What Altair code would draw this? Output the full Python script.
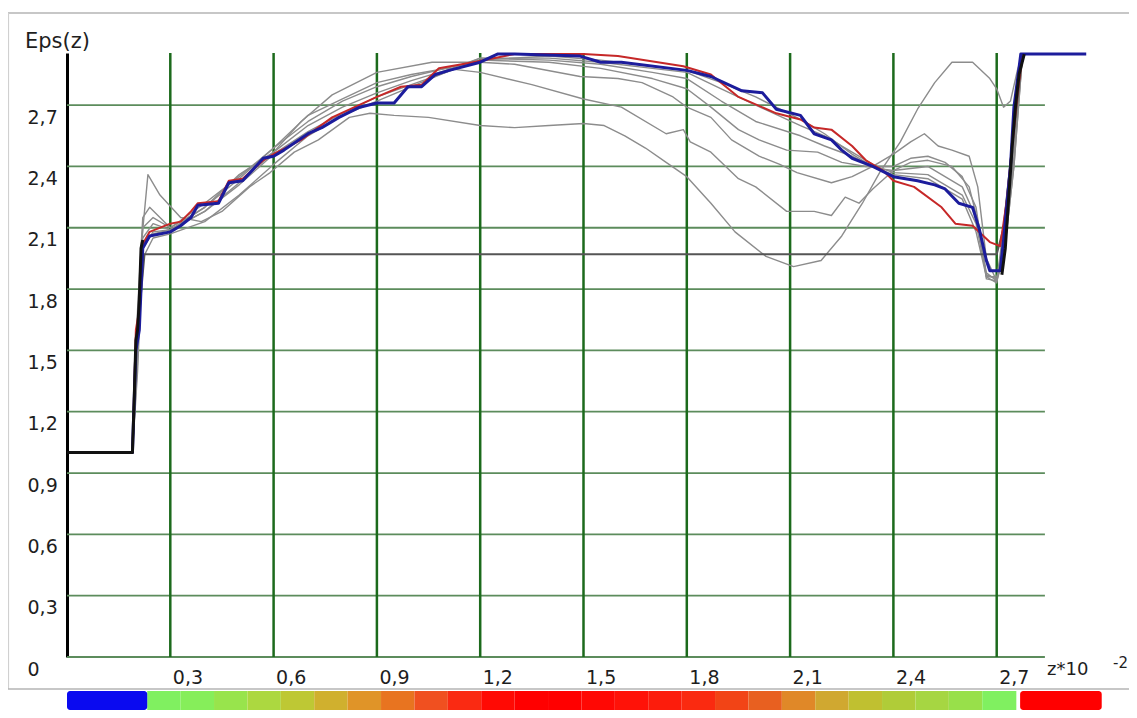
import altair as alt
import pandas as pd

# ---------------- data ----------------
Y_TICKS = [0, 0.3, 0.6, 0.9, 1.2, 1.5, 1.8, 2.1, 2.4, 2.7]
X_TICKS = [0.3, 0.6, 0.9, 1.2, 1.5, 1.8, 2.1, 2.4, 2.7]
GRID_X_END = 2.84
X_MAX = 3.0
Y_MAX = 2.955

BLUE_Z = [0.0, 0.19, 0.2, 0.21, 0.22, 0.24, 0.30, 0.33, 0.36, 0.38, 0.44, 0.47, 0.51, 0.57, 0.6, 0.63,
          0.70, 0.74, 0.79, 0.85, 0.9, 0.95, 0.99, 1.03, 1.07, 1.11, 1.2, 1.25, 1.3, 1.49, 1.55, 1.61,
          1.8, 1.87, 1.96, 2.02, 2.06, 2.13, 2.17, 2.22, 2.25, 2.28, 2.34, 2.40, 2.47, 2.52, 2.55,
          2.59, 2.63, 2.65, 2.67, 2.68, 2.71, 2.72, 2.74, 2.75, 2.77, 2.96]
BLUE_EPS = [1.0, 1.0, 1.5, 1.6, 2.0, 2.06, 2.08, 2.11, 2.15, 2.21, 2.22, 2.32, 2.33, 2.44, 2.45, 2.48,
            2.56, 2.59, 2.64, 2.69, 2.71, 2.71, 2.79, 2.79, 2.85, 2.87, 2.91, 2.95, 2.95, 2.94, 2.91, 2.91,
            2.87, 2.84, 2.77, 2.76, 2.68, 2.65, 2.56, 2.53, 2.48, 2.44, 2.40, 2.35, 2.33, 2.31, 2.29,
            2.22, 2.20, 2.09, 1.94, 1.89, 1.89, 2.04, 2.40, 2.69, 2.95, 2.95]

RED_Z = [0.0, 0.19, 0.2, 0.21, 0.22, 0.24, 0.30, 0.33, 0.36, 0.38, 0.44, 0.47, 0.51, 0.57, 0.6, 0.68,
         0.77, 0.9, 0.97, 1.03, 1.08, 1.18, 1.3, 1.5, 1.6, 1.79, 1.87, 1.95, 2.06, 2.13, 2.17, 2.22,
         2.28, 2.32, 2.37, 2.40, 2.46, 2.54, 2.58, 2.63, 2.68, 2.71, 2.73, 2.745, 2.76, 2.775]
RED_EPS = [1.0, 1.0, 1.6, 1.7, 2.02, 2.08, 2.12, 2.13, 2.18, 2.22, 2.23, 2.33, 2.34, 2.43, 2.46, 2.53,
           2.64, 2.74, 2.79, 2.80, 2.88, 2.91, 2.95, 2.95, 2.94, 2.89, 2.85, 2.74, 2.66, 2.63, 2.59, 2.58,
           2.50, 2.43, 2.38, 2.33, 2.30, 2.20, 2.12, 2.11, 2.03, 2.01, 2.24, 2.5, 2.75, 2.95]

G1_Z = [0.0, 0.19, 0.205, 0.215, 0.235, 0.27, 0.33, 0.39, 0.45, 0.53, 0.59, 0.66, 0.73, 0.82, 0.88, 0.95,
        1.05, 1.2, 1.3, 1.4, 1.5, 1.56, 1.62, 1.68, 1.74, 1.8, 1.87, 1.94, 2.03, 2.11, 2.19, 2.25, 2.31,
        2.36, 2.42, 2.47, 2.52, 2.57, 2.63, 2.68, 2.70, 2.72, 2.74, 2.76, 2.775]
G1_EPS = [1.0, 1.0, 1.6, 2.0, 2.36, 2.26, 2.15, 2.13, 2.18, 2.30, 2.37, 2.47, 2.53, 2.64, 2.66, 2.65,
          2.64, 2.60, 2.59, 2.60, 2.61, 2.60, 2.55, 2.49, 2.42, 2.35, 2.22, 2.08, 1.96, 1.91, 1.94, 2.06, 2.22,
          2.37, 2.52, 2.68, 2.81, 2.91, 2.91, 2.83, 2.78, 2.69, 2.72, 2.87, 2.95]

G2_Z = [0.0, 0.19, 0.205, 0.22, 0.24, 0.3, 0.4, 0.5, 0.6, 0.68, 0.77, 0.9, 1.06, 1.2, 1.3, 1.49, 1.6,
        1.67, 1.76, 1.8, 1.87, 1.93, 2.01, 2.07, 2.12, 2.22, 2.28, 2.34, 2.40, 2.45, 2.49, 2.53, 2.57,
        2.62, 2.645, 2.67, 2.70, 2.72, 2.745, 2.775]
G2_EPS = [1.0, 1.0, 1.7, 2.15, 2.2, 2.1, 2.2, 2.36, 2.47, 2.62, 2.75, 2.86, 2.91, 2.91, 2.90, 2.84, 2.83,
          2.81, 2.74, 2.69, 2.64, 2.53, 2.45, 2.41, 2.37, 2.32, 2.35, 2.40, 2.46, 2.52, 2.56, 2.50, 2.48,
          2.45, 2.30, 1.95, 1.84, 2.05, 2.5, 2.95]

G3_Z = [0.0, 0.19, 0.205, 0.22, 0.25, 0.3, 0.4, 0.5, 0.6, 0.7, 0.8, 0.9, 1.0, 1.1, 1.2, 1.35, 1.5, 1.61,
        1.74, 1.79, 1.81, 1.87, 1.95, 2.0, 2.09, 2.17, 2.22, 2.26, 2.30, 2.34, 2.40, 2.45, 2.5, 2.57,
        2.62, 2.65, 2.67, 2.70, 2.72, 2.75, 2.775]
G3_EPS = [1.0, 1.0, 1.6, 2.1, 2.15, 2.1, 2.22, 2.35, 2.49, 2.65, 2.73, 2.81, 2.85, 2.88, 2.86, 2.80, 2.73,
          2.69, 2.56, 2.58, 2.52, 2.47, 2.34, 2.30, 2.18, 2.18, 2.16, 2.25, 2.22, 2.29, 2.38, 2.42, 2.43,
          2.40, 2.30, 2.10, 1.85, 1.84, 2.1, 2.6, 2.95]

G4_Z = [0.0, 0.19, 0.205, 0.22, 0.25, 0.3, 0.4, 0.5, 0.6, 0.7, 0.8, 0.9, 1.0, 1.1, 1.2, 1.4, 1.55, 1.7,
        1.8, 1.87, 1.95, 2.01, 2.09, 2.18, 2.25, 2.32, 2.40, 2.45, 2.50, 2.55, 2.60, 2.64, 2.67, 2.70,
        2.72, 2.75, 2.775]
G4_EPS = [1.0, 1.0, 1.5, 2.05, 2.12, 2.09, 2.2, 2.34, 2.49, 2.62, 2.72, 2.79, 2.84, 2.88, 2.92, 2.91,
          2.88, 2.83, 2.78, 2.69, 2.58, 2.53, 2.48, 2.47, 2.42, 2.40, 2.40, 2.44, 2.45, 2.42, 2.35, 2.2,
          1.86, 1.83, 2.0, 2.5, 2.95]

G5_Z = [0.0, 0.19, 0.205, 0.22, 0.25, 0.3, 0.4, 0.5, 0.6, 0.7, 0.8, 0.9, 1.0, 1.1, 1.2, 1.4, 1.55, 1.7,
        1.8, 1.9, 2.0, 2.13, 2.2, 2.28, 2.35, 2.40, 2.5, 2.6, 2.64, 2.67, 2.70, 2.72, 2.75, 2.775]
G5_EPS = [1.0, 1.0, 1.4, 2.0, 2.08, 2.09, 2.18, 2.32, 2.47, 2.6, 2.69, 2.76, 2.82, 2.87, 2.93, 2.92,
          2.90, 2.86, 2.83, 2.72, 2.62, 2.55, 2.5, 2.45, 2.39, 2.38, 2.40, 2.30, 2.15, 1.88, 1.84, 1.95,
          2.45, 2.95]

G6_Z = [0.0, 0.19, 0.205, 0.22, 0.25, 0.3, 0.4, 0.5, 0.6, 0.7, 0.8, 0.9, 1.0, 1.1, 1.2, 1.4, 1.55, 1.7,
        1.8, 1.9, 2.0, 2.13, 2.2, 2.28, 2.35, 2.40, 2.5, 2.6, 2.64, 2.67, 2.70, 2.72, 2.75, 2.775]
G6_EPS = [1.0, 1.0, 1.45, 2.02, 2.07, 2.09, 2.18, 2.31, 2.46, 2.57, 2.66, 2.74, 2.80, 2.86, 2.93, 2.93,
          2.91, 2.88, 2.86, 2.78, 2.70, 2.60, 2.55, 2.47, 2.40, 2.37, 2.36, 2.26, 2.12, 1.87, 1.85, 1.95,
          2.4, 2.95]

G7_Z = [0.0, 0.19, 0.205, 0.22, 0.25, 0.3, 0.4, 0.5, 0.6, 0.7, 0.8, 0.9, 1.0, 1.1, 1.2, 1.4, 1.55, 1.7,
        1.8, 1.9, 2.0, 2.13, 2.2, 2.28, 2.35, 2.40, 2.5, 2.6, 2.64, 2.67, 2.70, 2.72, 2.75, 2.775]
G7_EPS = [1.0, 1.0, 1.5, 1.95, 2.05, 2.07, 2.13, 2.26, 2.41, 2.55, 2.65, 2.72, 2.79, 2.86, 2.92, 2.94,
          2.92, 2.89, 2.87, 2.81, 2.74, 2.63, 2.56, 2.46, 2.39, 2.36, 2.34, 2.24, 2.08, 1.86, 1.86, 1.95,
          2.4, 2.95]

INIT_Z = [0.0, 0.19, 0.2, 0.225, 2.66, 2.70, 2.72, 2.745, 2.775]
INIT_EPS = [1.0, 1.0, 1.5, 1.97, 1.97, 1.97, 2.1, 2.5, 2.95]

BLACK_LEFT_Z = [0.0, 0.19, 0.195, 0.2, 0.205, 0.21, 0.215, 0.22]
BLACK_LEFT_EPS = [1.0, 1.0, 1.25, 1.55, 1.6, 1.75, 2.0, 2.04]
BLACK_RIGHT_Z = [2.715, 2.725, 2.735, 2.745, 2.755, 2.765, 2.78]
BLACK_RIGHT_EPS = [1.87, 2.0, 2.25, 2.5, 2.7, 2.85, 2.95]

# colour bar under the axis
BAR_START = [0.0, 0.233, 0.330, 0.427, 0.524, 0.621, 0.718, 0.815, 0.912, 1.009, 1.106, 1.203, 1.300,
             1.397, 1.494, 1.591, 1.688, 1.785, 1.882, 1.979, 2.076, 2.173, 2.270, 2.367, 2.464, 2.561,
             2.658, 2.768]
BAR_END = [0.233, 0.330, 0.427, 0.524, 0.621, 0.718, 0.815, 0.912, 1.009, 1.106, 1.203, 1.300, 1.397,
           1.494, 1.591, 1.688, 1.785, 1.882, 1.979, 2.076, 2.173, 2.270, 2.367, 2.464, 2.561, 2.658,
           2.757, 3.005]
BAR_COLOR = ["#0a0af0", "#80f060", "#86ee5a", "#98e44c", "#acd840", "#bec834", "#d0b02e", "#e09428",
             "#e87420", "#f05020", "#fa2a12", "#ff0a04", "#ff0000", "#ff0000", "#ff0804", "#ff1208",
             "#fc1c0c", "#fa2a10", "#f24416", "#e86020", "#e08828", "#d0a830", "#c0c030", "#b0cc38",
             "#a6d642", "#98e04a", "#80f060", "#ff0000"]

# ---------------- build tables ----------------
def long(name, zs, es):
    return pd.DataFrame({"z": zs, "eps": es, "series": name})

gray_df = pd.concat([long("g1", G1_Z, G1_EPS), long("g2", G2_Z, G2_EPS), long("g3", G3_Z, G3_EPS),
                     long("g4", G4_Z, G4_EPS), long("g5", G5_Z, G5_EPS), long("g6", G6_Z, G6_EPS),
                     long("g7", G7_Z, G7_EPS)])
init_df = long("init", INIT_Z, INIT_EPS)
red_df = long("red", RED_Z, RED_EPS)
blue_df = long("blue", BLUE_Z, BLUE_EPS)
black_df = pd.concat([long("bl", BLACK_LEFT_Z, BLACK_LEFT_EPS), long("br", BLACK_RIGHT_Z, BLACK_RIGHT_EPS)])

bar_df = pd.DataFrame({"z0": BAR_START, "z1": BAR_END, "c": BAR_COLOR})
bar_mid = bar_df.iloc[1:-1]
bar_ends = bar_df.iloc[[0, -1]]

FONT = "DejaVu Sans"
XS = alt.Scale(domain=[0, X_MAX], nice=False, zero=False)
YS = alt.Scale(domain=[0, Y_MAX], nice=False, zero=False)

label_expr = "datum.value == 0 ? '0' : replace(format(datum.value, '.1f'), '.', ',')"

XAX = alt.Axis(values=X_TICKS, labelExpr=label_expr, grid=False, ticks=False, domain=False, title=None,
               labelAlign="left", labelBaseline="middle", labelPadding=20, labelOffset=2,
               labelFlush=False, labelFont=FONT, labelFontSize=19, labelColor="#1e1e1e")
YAX = alt.Axis(values=Y_TICKS, labelExpr=label_expr, grid=False, ticks=False, domain=True, title=None,
               domainColor="#000000", domainWidth=3, labelPadding=40, labelOffset=12,
               labelAlign="left", labelBaseline="middle", labelFlush=False, labelFont=FONT,
               labelFontSize=19, labelColor="#1e1e1e")

# gridlines
vgrid = alt.Chart(pd.DataFrame({"v": X_TICKS})).mark_rule(color="#1c6a1c", strokeWidth=2.5).encode(
    x=alt.X("v:Q", scale=XS, title=None, axis=XAX)
)
hgrid = alt.Chart(pd.DataFrame({"v": Y_TICKS})).mark_rule(color="#5c8c5c", strokeWidth=1.8).encode(
    y=alt.Y("v:Q", scale=YS, title=None, axis=YAX),
    x=alt.datum(0, scale=XS, axis=XAX),
    x2=alt.datum(GRID_X_END),
)

def curve_layer(df, color, width):
    return alt.Chart(df).mark_line(color=color, strokeWidth=width, strokeJoin="round").encode(
        x=alt.X("z:Q", scale=XS, axis=XAX, title=None),
        y=alt.Y("eps:Q", scale=YS, axis=YAX, title=None),
        detail="series:N",
    )

gray = curve_layer(gray_df, "#8c8c8c", 1.4)
init = curve_layer(init_df, "#555555", 2)
red = curve_layer(red_df, "#c62828", 2)
blue = curve_layer(blue_df, "#1c1c9c", 3)
black = curve_layer(black_df, "#111111", 3)

def bar_layer(df, radius):
    return alt.Chart(df).mark_rect(cornerRadius=radius).encode(
        x=alt.X("z0:Q", scale=XS, axis=XAX, title=None), x2="z1:Q",
        y=alt.value(638), y2=alt.value(657),
        color=alt.Color("c:N", scale=None),
    )

bar_mid_layer = bar_layer(bar_mid, 0)
bar_end_layer = bar_layer(bar_ends, 3)

one = pd.DataFrame({"k": [0]})
frame_top = alt.Chart(one).mark_rule(color="#b4b4b4", strokeWidth=1.5).encode(
    x=alt.value(-60), x2=alt.value(1063), y=alt.value(-40))
frame_left = alt.Chart(one).mark_rule(color="#d0d0d0", strokeWidth=1.2).encode(
    x=alt.value(-58.5), y=alt.value(-40), y2=alt.value(636))
frame_bottom = alt.Chart(one).mark_rule(color="#b4b4b4", strokeWidth=1.5).encode(
    x=alt.value(-60), x2=alt.value(1070), y=alt.value(636))

def text_layer(txt, x, y, size, align="left"):
    return alt.Chart(pd.DataFrame({"t": [txt]})).mark_text(
        font=FONT, fontSize=size, color="#1e1e1e", align=align, baseline="middle").encode(
        x=alt.value(x), y=alt.value(y), text="t:N")

title_txt = text_layer("Eps(z)", -42, -11, 21)
zlab = text_layer("z*10", 980, 617, 18)
zexp = text_layer("-2", 1046, 610, 15)

chart = alt.layer(
    hgrid, vgrid,
    frame_top, frame_left, frame_bottom,
    gray, init, red, blue, black,
    bar_mid_layer, bar_end_layer,
    title_txt, zlab, zexp,
).properties(
    width=1033, height=604,
    autosize=alt.AutoSizeParams(type="none"),
    padding={"left": 59, "top": 45, "right": 29, "bottom": 53},
    background="white",
).configure_view(stroke=None)

chart.save("out.html", embed_options={"renderer": "svg", "actions": False})
